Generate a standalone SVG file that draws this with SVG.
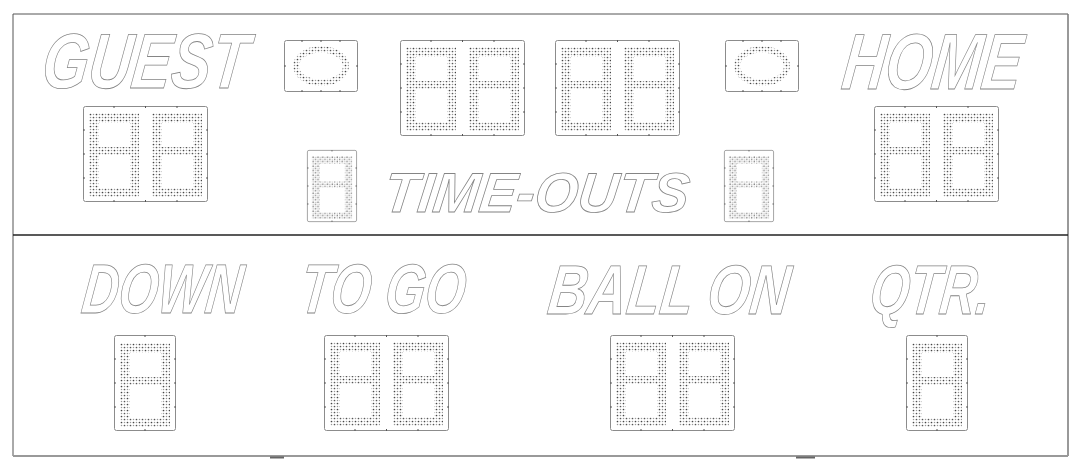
<svg xmlns="http://www.w3.org/2000/svg" xmlns:xlink="http://www.w3.org/1999/xlink" width="1086" height="470" viewBox="0 0 1086 470">
<style>
.lbl{font-family:"Liberation Sans",Arial,sans-serif;font-weight:bold;font-style:italic;fill:#fff;stroke:#858585;stroke-width:0.8;}
.box{fill:#fff;stroke:#8c8c8c;stroke-width:1;}
.tick{stroke:#555;stroke-width:1;}
.dots{fill:url(#dots);fill-rule:evenodd;}
</style>
<defs>
<pattern id="dots" width="6" height="6" patternUnits="userSpaceOnUse">
<circle cx="1.5" cy="1.5" r="0.85" fill="#444"/>
<circle cx="4.5" cy="4.5" r="0.85" fill="#555"/>
<circle cx="4.5" cy="1.5" r="0.75" fill="#999"/>
<circle cx="1.5" cy="4.5" r="0.75" fill="#999"/>
</pattern>
<path id="dg" class="dots" d="M0,0H50V84H0Z M10,10H41V34H10Z M10,42H41V75H10Z"/>
<g id="single">
<rect class="box" x="0.5" y="0.5" width="61" height="95" rx="2"/>
<use xlink:href="#dg" x="6" y="8"/>
<path class="tick" d="M31,0v2M0,24h2M0,48h2M0,72h2M62,24h-2M62,48h-2M62,72h-2M31,96v-2"/>
</g>
<g id="dual">
<rect class="box" x="0.5" y="0.5" width="124" height="95" rx="2"/>
<use xlink:href="#dg" x="6" y="7"/>
<use xlink:href="#dg" x="69" y="7"/>
<path class="tick" d="M31,0v2M62.5,0v2M94,0v2M31,96v-2M62.5,96v-2M94,96v-2M0,24h2M0,48h2M0,72h2M125,24h-2M125,48h-2M125,72h-2"/>
</g>
<g id="oval">
<rect class="box" x="0.5" y="0.5" width="73" height="51" rx="2"/>
<path class="dots" d="M9,26a28,20 0 1,0 56,0a28,20 0 1,0 -56,0Z M15,26a22,13.5 0 1,0 44,0a22,13.5 0 1,0 -44,0Z"/>
<path class="tick" d="M18,0v2M37,0v2M56,0v2M18,52v-2M37,52v-2M56,52v-2M0,26h2M74,26h-2"/>
</g>
</defs>
<rect width="1086" height="470" fill="#fff"/>
<g id="frame">
<path d="M13,456V14H1068" fill="none" stroke="#555" stroke-width="1"/>
<path d="M1068,14V456" fill="none" stroke="#777" stroke-width="1.5"/>
<path d="M13,456H1068" fill="none" stroke="#999" stroke-width="2"/>
<path d="M13,235H1068" fill="none" stroke="#222" stroke-width="1.5"/>
<path d="M270,457.5H284M796,457.5H815" stroke="#666" stroke-width="2"/>
</g>
<g id="guest"><text class="lbl" transform="translate(40,88) skewX(-7)" font-size="78" textLength="205" lengthAdjust="spacingAndGlyphs">GUEST</text></g>
<g id="home"><text class="lbl" transform="translate(840,89) skewX(-7)" font-size="79" textLength="179" lengthAdjust="spacingAndGlyphs">HOME</text></g>
<g id="poss-left"><use xlink:href="#oval" x="284" y="40"/></g>
<g id="poss-right"><use xlink:href="#oval" x="725" y="40"/></g>
<g id="clock-min"><use xlink:href="#dual" x="400" y="40"/></g>
<g id="clock-sec"><use xlink:href="#dual" x="555" y="40"/></g>
<g id="guest-score"><use xlink:href="#dual" x="83" y="106"/></g>
<g id="home-score"><use xlink:href="#dual" x="874" y="106"/></g>
<g id="to-left"><use xlink:href="#single" transform="translate(307,150) scale(0.806,0.75)"/></g>
<g id="to-right"><use xlink:href="#single" transform="translate(724,150) scale(0.806,0.75)"/></g>
<g id="timeouts"><text class="lbl" transform="translate(382,212) skewX(-7)" font-size="56" textLength="305" lengthAdjust="spacingAndGlyphs">TIME-OUTS</text></g>
<g id="down"><text class="lbl" transform="translate(80,313) skewX(-7)" font-size="70" textLength="160" lengthAdjust="spacingAndGlyphs">DOWN</text><use xlink:href="#single" x="114" y="335"/></g>
<g id="togo"><text class="lbl" transform="translate(298,313) skewX(-7)" font-size="70" textLength="165" lengthAdjust="spacingAndGlyphs">TO GO</text><use xlink:href="#dual" x="324" y="335"/></g>
<g id="ballon"><text class="lbl" transform="translate(546,314) skewX(-7)" font-size="70" textLength="241" lengthAdjust="spacingAndGlyphs">BALL ON</text><use xlink:href="#dual" x="610" y="335"/></g>
<g id="qtr"><text class="lbl" transform="translate(868,314) skewX(-7)" font-size="70" textLength="120" lengthAdjust="spacingAndGlyphs">QTR.</text><use xlink:href="#single" x="906" y="335"/></g>
<g id="connectors"/>
</svg>
